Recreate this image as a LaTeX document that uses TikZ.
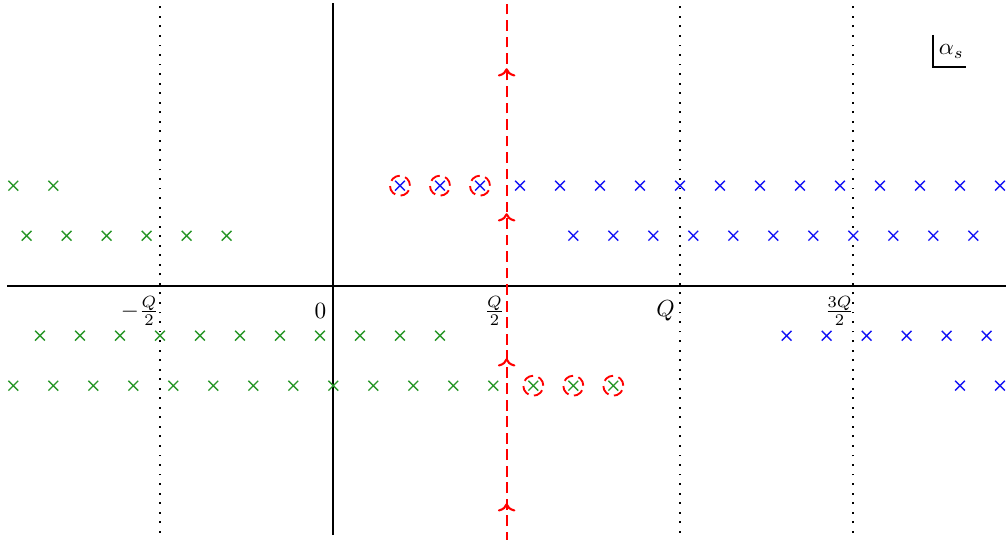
\documentclass[tikz,border=0pt]{standalone}
\usepackage{amsmath,amssymb}
\usepackage{tikz}
\usetikzlibrary{arrows.meta,shapes.misc,decorations.markings}
\usepackage{xcolor}
\definecolor{polegreen}{RGB}{40,150,40}
\definecolor{poleblue}{RGB}{20,20,245}

\begin{document}
\begin{tikzpicture}[
  x=0.43pt, y=0.43pt,
  pole/.style={cross out, draw, minimum size=3.6pt, inner sep=0pt, line width=0.6pt},
  gp/.style={pole, polegreen},
  bp/.style={pole, poleblue},
  ring/.style={circle, draw=red, dash pattern=on 4.4pt off 2.4pt, line width=0.8pt, minimum size=8.6pt, inner sep=0pt},
  axis/.style={line width=1pt},
  wall/.style={line width=0.8pt, dash pattern=on 0.8pt off 3.3pt},
  contour/.style={red, line width=0.9pt, dash pattern=on 4.6pt off 2.5pt, postaction={decorate},
    decoration={markings, mark=between positions 0.125 and 0.875 step 0.25 with {\arrow[solid]{>}}}}
]
\useasboundingbox (-333.3,-254.3) rectangle (672.7,285.7);

% axes
\coordinate (xl) at (-326,0);
\coordinate (xr) at (672.7,0);
\coordinate (yb) at (0,-249.3);
\coordinate (yt) at (0,282.7);
\draw[axis] (xl) -- (xr);
\draw[axis] (yb) -- (yt);

% walls at -Q/2, Q, 3Q/2
\foreach \x [count=\n] in {-173.33,346.67,520} {
  \coordinate (w\n b) at (\x,-247);
  \coordinate (w\n t) at (\x,282.7);
  \draw[wall] (w\n b) -- (w\n t);
}

% integration contour at Q/2
\coordinate (cb) at (173.33,-290);
\coordinate (ct) at (173.33,290);
\draw[contour] (cb) -- (ct);

% poles: green ones, blue ones are their images under x -> Q-x, y -> -y
\foreach \x/\y [count=\n] in {-320/100,-280/100,
    -306.67/50,-266.67/50,-226.67/50,-186.67/50,-146.67/50,-106.67/50,
    -293.33/-50,-253.33/-50,-213.33/-50,-173.33/-50,-133.33/-50,-93.33/-50,
    -53.33/-50,-13.33/-50,26.67/-50,66.67/-50,106.67/-50,
    -320/-100,-280/-100,-240/-100,-200/-100,-160/-100,-120/-100,-80/-100,
    -40/-100,0/-100,40/-100,80/-100,120/-100,160/-100} {
  \node[gp] (g\n) at (\x,\y) {};
  \node[bp] (b\n) at (346.67-\x,-\y) {};
}
\foreach \x [count=\n] in {200,240,280} {
  \node[gp] (gc\n) at (\x,-100) {};
  \node[ring] (gr\n) at (gc\n) {};
  \node[bp] (bc\n) at (346.67-\x,100) {};
  \node[ring] (br\n) at (bc\n) {};
}

% labels
\node (lm) at (-193.3,-25.3) {$-\frac{Q}{2}$};
\node (l0) at (-12.8,-25.3) {$0$};
\node (lh) at (161.2,-25.3) {$\frac{Q}{2}$};
\node (lq) at (332.2,-25.3) {$Q$};
\node (l3) at (506.2,-25.3) {$\frac{3Q}{2}$};

% plane label
\coordinate (pt) at (599.7,250.7);
\coordinate (pr) at (632.7,218.7);
\draw[line width=0.8pt] (pt) |- (pr);
\node (al) at (618,234) {$\alpha_s$};
\end{tikzpicture}
\end{document}
